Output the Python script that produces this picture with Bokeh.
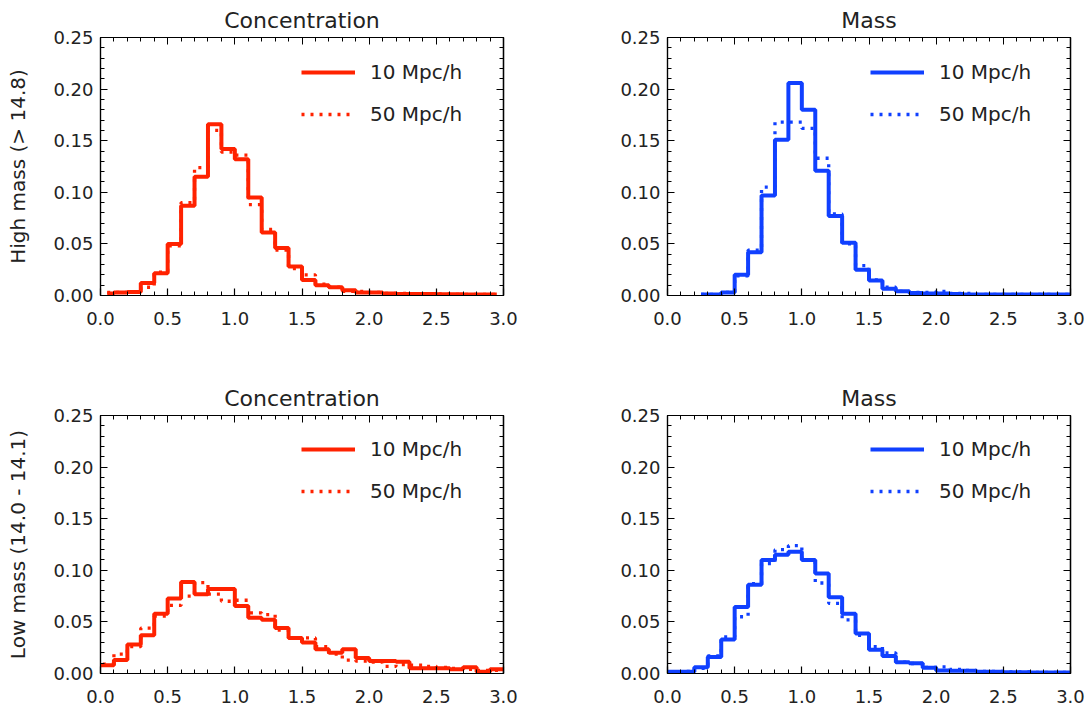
from bokeh.plotting import figure
from bokeh.layouts import gridplot
from bokeh.models import (LinearAxis, Range1d, Legend, LegendItem,
                          SingleIntervalTicker, FixedTicker, NumeralTickFormatter)
from bokeh.embed import file_html
from bokeh.resources import INLINE

# ---------------- data (histogram values, bin width 0.1) ----------------
x_conc_hi = [0.05, 0.15, 0.25, 0.35, 0.45, 0.55, 0.65, 0.75, 0.85, 0.95,
             1.05, 1.15, 1.25, 1.35, 1.45, 1.55, 1.65, 1.75, 1.85, 1.95,
             2.05, 2.15, 2.25, 2.35, 2.45, 2.55, 2.65, 2.75, 2.85, 2.95]
conc_hi_10 = [0.002, 0.003, 0.0035, 0.012, 0.0216, 0.050, 0.087, 0.115, 0.166, 0.142,
              0.132, 0.095, 0.061, 0.046, 0.028, 0.015, 0.010, 0.008, 0.005, 0.003,
              0.003, 0.002, 0.0015, 0.0015, 0.0015, 0.0012, 0.0012, 0.001, 0.001, 0.001]
conc_hi_50 = [0.003, 0.003, 0.003, 0.008, 0.0226, 0.048, 0.090, 0.124, 0.160, 0.139,
              0.136, 0.088, 0.064, 0.044, 0.026, 0.020, 0.011, 0.008, 0.004, 0.004,
              0.003, 0.002, 0.002, 0.0015, 0.0015, 0.0015, 0.001, 0.001, 0.001, 0.001]

x_mass_hi = [0.25, 0.35, 0.45, 0.55, 0.65, 0.75, 0.85, 0.95, 1.05, 1.15,
             1.25, 1.35, 1.45, 1.55, 1.65, 1.75, 1.85, 1.95, 2.05, 2.15,
             2.25, 2.35, 2.45, 2.55, 2.65, 2.75, 2.85, 2.95, 3.05]
mass_hi_10 = [0.001, 0.001, 0.003, 0.020, 0.042, 0.097, 0.151, 0.206, 0.180, 0.121,
              0.077, 0.051, 0.025, 0.0145, 0.0065, 0.004, 0.0025, 0.002, 0.002, 0.0015,
              0.001, 0.001, 0.001, 0.001, 0.001, 0.001, 0.001, 0.001, 0.001]
mass_hi_50 = [0.001, 0.001, 0.003, 0.019, 0.044, 0.105, 0.168, 0.168, 0.162, 0.133,
              0.079, 0.050, 0.029, 0.015, 0.008, 0.004, 0.003, 0.003, 0.004, 0.002,
              0.002, 0.001, 0.001, 0.001, 0.001, 0.001, 0.001, 0.001, 0.001]

x_lo = [-0.05, 0.05, 0.15, 0.25, 0.35, 0.45, 0.55, 0.65, 0.75, 0.85, 0.95,
        1.05, 1.15, 1.25, 1.35, 1.45, 1.55, 1.65, 1.75, 1.85, 1.95,
        2.05, 2.15, 2.25, 2.35, 2.45, 2.55, 2.65, 2.75, 2.85, 2.95, 3.05]
conc_lo_10 = [0.008, 0.008, 0.013, 0.028, 0.037, 0.058, 0.0726, 0.0887, 0.0768, 0.082, 0.082,
              0.0655, 0.054, 0.052, 0.044, 0.0345, 0.030, 0.0235, 0.020, 0.0235, 0.015,
              0.012, 0.012, 0.0115, 0.005, 0.005, 0.005, 0.004, 0.006, 0.0016, 0.004, 0.004]
conc_lo_50 = [0.009, 0.009, 0.0187, 0.026, 0.044, 0.0555, 0.066, 0.075, 0.088, 0.077, 0.070,
              0.071, 0.0587, 0.057, 0.042, 0.0345, 0.0345, 0.026, 0.0187, 0.013, 0.012,
              0.011, 0.007, 0.0087, 0.008, 0.007, 0.006, 0.005, 0.004, 0.003, 0.003, 0.003]
mass_lo_10 = [0.0016, 0.0016, 0.0016, 0.006, 0.016, 0.033, 0.0645, 0.086, 0.110, 0.115, 0.118,
              0.110, 0.0968, 0.074, 0.058, 0.0387, 0.023, 0.017, 0.011, 0.010, 0.0055,
              0.003, 0.0026, 0.0026, 0.0016, 0.0016, 0.0013, 0.0013, 0.001, 0.001, 0.001, 0.001]
mass_lo_50 = [0.001, 0.001, 0.002, 0.005, 0.017, 0.0355, 0.055, 0.087, 0.1065, 0.120, 0.124,
              0.110, 0.0877, 0.068, 0.052, 0.037, 0.026, 0.020, 0.011, 0.0097, 0.006,
              0.0065, 0.004, 0.003, 0.002, 0.002, 0.0015, 0.0015, 0.001, 0.001, 0.001, 0.001]

titles = ["Concentration", "Mass", "Concentration", "Mass"]
ylabels = ["High mass (> 14.8)", "Low mass (14.0 - 14.1)"]
legend_labels = ["10 Mpc/h", "50 Mpc/h"]
x_major_ticks = [0.0, 0.5, 1.0, 1.5, 2.0, 2.5, 3.0]
x_minor_ticks = [i / 10 for i in range(31) if i % 5]
y_major_ticks = [0.0, 0.05, 0.10, 0.15, 0.20, 0.25]
y_minor_ticks = [i / 100 for i in range(26) if i % 5]
x_ticks_fmt = "0.0"
y_ticks_fmt = "0.00"

FONT = "DejaVu Sans"
RED = "#ff2200"
BLUE = "#1040ff"
TXT = "#222222"


def tick_style(ax):
    ax.major_tick_in = 7
    ax.major_tick_out = 0
    ax.minor_tick_out = 0
    ax.axis_line_color = "black"
    ax.axis_line_width = 1.2
    ax.major_tick_line_color = "black"
    ax.minor_tick_line_color = "black"
    ax.major_tick_line_width = 1.2
    ax.minor_tick_line_width = 1.0


def style_main_axis(ax, interval, fmt, standoff):
    ax.ticker = SingleIntervalTicker(interval=interval, num_minor_ticks=5)
    ax.formatter = NumeralTickFormatter(format=fmt)
    tick_style(ax)
    ax.minor_tick_in = 4
    ax.major_label_text_font = FONT
    ax.major_label_text_font_size = "18px"
    ax.major_label_text_color = TXT
    ax.major_label_standoff = standoff


def mirror_axes(p, side, majors, minors):
    # label-free mirrored axes: long ticks at the major positions, short ones between
    for ticks, length in ((majors, 7), (minors, 4)):
        ax = LinearAxis(ticker=FixedTicker(ticks=[], minor_ticks=ticks))
        tick_style(ax)
        ax.minor_tick_in = length
        ax.major_label_standoff = 0
        p.add_layout(ax, side)


def panel(title, xs, y10, y50, color, ylabel, bl, br, bt, bb, leg_xy):
    p = figure(width=546, height=357, x_range=Range1d(0, 3), y_range=Range1d(0, 0.25),
               output_backend="svg", toolbar_location=None, tools="",
               min_border_left=bl, min_border_right=br,
               min_border_top=bt, min_border_bottom=bb, title=title)
    p.grid.visible = False
    p.outline_line_color = "black"
    p.outline_line_width = 1.2
    p.background_fill_color = "white"
    p.border_fill_color = "white"
    p.title.align = "center"
    p.title.text_font = FONT
    p.title.text_font_size = "22px"
    p.title.text_font_style = "normal"
    p.title.text_color = TXT
    p.title.standoff = 9

    style_main_axis(p.xaxis[0], 0.5, x_ticks_fmt, 16)
    style_main_axis(p.yaxis[0], 0.05, y_ticks_fmt, 7)
    if ylabel:
        p.yaxis[0].axis_label = ylabel
        p.yaxis[0].axis_label_text_font = FONT
        p.yaxis[0].axis_label_text_font_size = "20px"
        p.yaxis[0].axis_label_text_font_style = "normal"
        p.yaxis[0].axis_label_text_color = TXT
        p.yaxis[0].axis_label_standoff = 20

    mirror_axes(p, "above", x_major_ticks, x_minor_ticks)
    mirror_axes(p, "right", y_major_ticks, y_minor_ticks)

    r10 = p.step(xs, y10, mode="center", line_color=color, line_width=4)
    r50 = p.step(xs, y50, mode="center", line_color=color, line_width=3.3,
                 line_dash="3 6")

    leg = Legend(items=[LegendItem(label=legend_labels[0], renderers=[r10]),
                        LegendItem(label=legend_labels[1], renderers=[r50])],
                 location=leg_xy, glyph_width=54, glyph_height=20,
                 label_height=20, label_standoff=15, spacing=18,
                 padding=0, margin=0, border_line_alpha=0,
                 background_fill_alpha=0,
                 label_text_font=FONT, label_text_font_size="20px",
                 label_text_color=TXT)
    p.add_layout(leg)
    return p


p1 = panel(titles[0], x_conc_hi, conc_hi_10, conc_hi_50, RED, ylabels[0],
           100, 43, 37, 62, (201, 169))
p2 = panel(titles[1], x_mass_hi, mass_hi_10, mass_hi_50, BLUE, None,
           121, 22, 37, 62, (203, 169))
p3 = panel(titles[2], x_lo, conc_lo_10, conc_lo_50, RED, ylabels[1],
           100, 43, 58, 41, (201, 170))
p4 = panel(titles[3], x_lo, mass_lo_10, mass_lo_50, BLUE, None,
           121, 22, 58, 41, (203, 170))

grid = gridplot([[p1, p2], [p3, p4]], toolbar_location=None)

open("out.html", "w").write(file_html(grid, INLINE))
